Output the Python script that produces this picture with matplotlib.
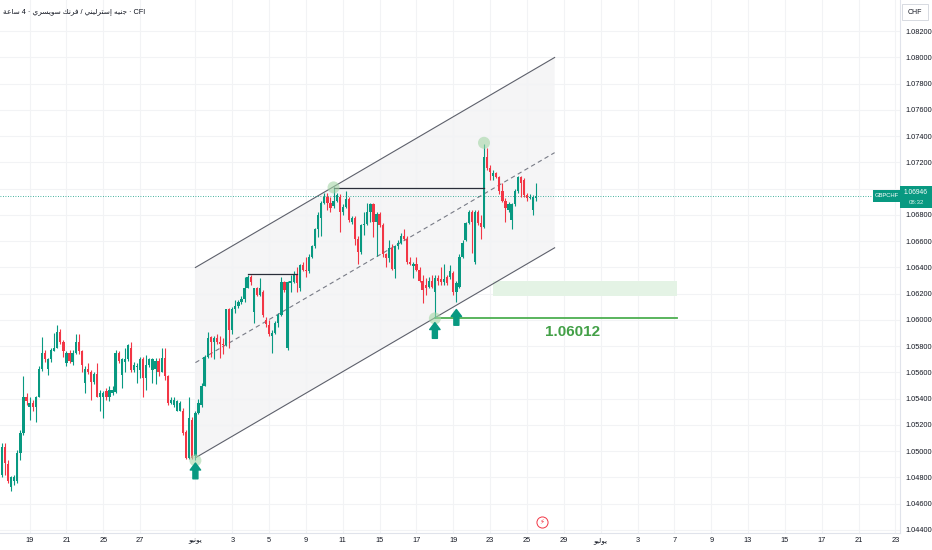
import numpy as np
import pandas as pd
import matplotlib
matplotlib.use('Agg')
import matplotlib.pyplot as plt
import matplotlib.transforms as mtrans
from matplotlib.patches import Rectangle, Polygon

plt.rcParams['font.family'] = ['Liberation Sans', 'DejaVu Sans']

# GBPCHF 4h candles, first bar 2026-05-15 12:00
opens = [1.0482, 1.0503, 1.0490, 1.0473, 1.0477, 1.0477, 1.0499, 1.0514, 1.0541, 1.0534,
         1.0537, 1.0534, 1.0541, 1.0563, 1.0575, 1.0563, 1.0570, 1.0576, 1.0579, 1.0591,
         1.0583, 1.0567, 1.0575, 1.0568, 1.0575, 1.0583, 1.0576, 1.0552, 1.0563, 1.0560,
         1.0553, 1.0559, 1.0541, 1.0541, 1.0546, 1.0541, 1.0544, 1.0545, 1.0575, 1.0558,
         1.0568, 1.0570, 1.0579, 1.0562, 1.0564, 1.0562, 1.0570, 1.0556, 1.0566, 1.0562,
         1.0563, 1.0569, 1.0560, 1.0571, 1.0557, 1.0537, 1.0535, 1.0531, 1.0531, 1.0531,
         1.0515, 1.0495, 1.0524, 1.0496, 1.0529, 1.0535, 1.0550, 1.0572, 1.0587, 1.0583,
         1.0586, 1.0583, 1.0582, 1.0581, 1.0608, 1.0592, 1.0608, 1.0611, 1.0614, 1.0616,
         1.0624, 1.0633, 1.0606, 1.0624, 1.0619, 1.0621, 1.0600, 1.0596, 1.0588, 1.0590,
         1.0598, 1.0604, 1.0629, 1.0579, 1.0628, 1.0629, 1.0634, 1.0624, 1.0642, 1.0638,
         1.0637, 1.0648, 1.0656, 1.0669, 1.0678, 1.0689, 1.0694, 1.0689, 1.0687, 1.0691,
         1.0694, 1.0682, 1.0686, 1.0692, 1.0675, 1.0678, 1.0662, 1.0652, 1.0672, 1.0673,
         1.0682, 1.0688, 1.0675, 1.0681, 1.0672, 1.0650, 1.0647, 1.0655, 1.0639, 1.0656,
         1.0659, 1.0664, 1.0662, 1.0644, 1.0641, 1.0643, 1.0638, 1.0630, 1.0627, 1.0625,
         1.0630, 1.0621, 1.0632, 1.0631, 1.0629, 1.0633, 1.0633, 1.0636, 1.0621, 1.0625,
         1.0648, 1.0661, 1.0674, 1.0682, 1.0644, 1.0682, 1.0674, 1.0671, 1.0724, 1.0716,
         1.0710, 1.0712, 1.0709, 1.0698, 1.0691, 1.0684, 1.0676, 1.0688, 1.0698, 1.0709,
         1.0707, 1.0695, 1.0693, 1.0684, 1.0693]
highs = [1.0506, 1.0506, 1.0493, 1.0481, 1.0482, 1.0501, 1.0516, 1.0557, 1.0544, 1.0541,
         1.0539, 1.0542, 1.0565, 1.0587, 1.0577, 1.0571, 1.0579, 1.0590, 1.0596, 1.0593,
         1.0585, 1.0576, 1.0577, 1.0577, 1.0589, 1.0589, 1.0577, 1.0565, 1.0567, 1.0562,
         1.0560, 1.0567, 1.0547, 1.0546, 1.0548, 1.0550, 1.0550, 1.0577, 1.0576, 1.0571,
         1.0579, 1.0582, 1.0583, 1.0568, 1.0567, 1.0572, 1.0572, 1.0573, 1.0571, 1.0571,
         1.0571, 1.0571, 1.0579, 1.0579, 1.0558, 1.0541, 1.0541, 1.0539, 1.0538, 1.0533,
         1.0516, 1.0541, 1.0526, 1.0531, 1.0540, 1.0552, 1.0573, 1.0591, 1.0588, 1.0588,
         1.0589, 1.0588, 1.0586, 1.0608, 1.0609, 1.0610, 1.0615, 1.0615, 1.0618, 1.0633,
         1.0634, 1.0634, 1.0624, 1.0625, 1.0632, 1.0623, 1.0602, 1.0600, 1.0592, 1.0599,
         1.0605, 1.0633, 1.0630, 1.0630, 1.0634, 1.0637, 1.0640, 1.0643, 1.0644, 1.0648,
         1.0650, 1.0657, 1.0670, 1.0682, 1.0691, 1.0697, 1.0697, 1.0694, 1.0701, 1.0697,
         1.0696, 1.0688, 1.0698, 1.0694, 1.0679, 1.0679, 1.0664, 1.0673, 1.0682, 1.0689,
         1.0689, 1.0689, 1.0682, 1.0682, 1.0674, 1.0651, 1.0661, 1.0658, 1.0657, 1.0661,
         1.0666, 1.0669, 1.0664, 1.0648, 1.0644, 1.0648, 1.0640, 1.0634, 1.0632, 1.0633,
         1.0634, 1.0634, 1.0634, 1.0640, 1.0643, 1.0634, 1.0642, 1.0637, 1.0630, 1.0650,
         1.0661, 1.0675, 1.0684, 1.0684, 1.0684, 1.0684, 1.0680, 1.0734, 1.0731, 1.0718,
         1.0714, 1.0713, 1.0710, 1.0704, 1.0693, 1.0690, 1.0689, 1.0700, 1.0710, 1.0710,
         1.0708, 1.0697, 1.0696, 1.0695, 1.0704]
lows = [1.0480, 1.0482, 1.0476, 1.0470, 1.0474, 1.0476, 1.0493, 1.0512, 1.0535, 1.0524,
        1.0531, 1.0522, 1.0541, 1.0561, 1.0568, 1.0558, 1.0568, 1.0576, 1.0579, 1.0582,
        1.0572, 1.0565, 1.0567, 1.0566, 1.0574, 1.0574, 1.0560, 1.0544, 1.0559, 1.0539,
        1.0551, 1.0541, 1.0531, 1.0525, 1.0539, 1.0538, 1.0543, 1.0544, 1.0567, 1.0548,
        1.0560, 1.0569, 1.0560, 1.0560, 1.0552, 1.0556, 1.0541, 1.0547, 1.0564, 1.0552,
        1.0551, 1.0557, 1.0560, 1.0554, 1.0535, 1.0536, 1.0534, 1.0531, 1.0531, 1.0512,
        1.0494, 1.0494, 1.0494, 1.0493, 1.0528, 1.0534, 1.0550, 1.0571, 1.0572, 1.0570,
        1.0582, 1.0571, 1.0574, 1.0580, 1.0579, 1.0589, 1.0605, 1.0609, 1.0612, 1.0614,
        1.0624, 1.0627, 1.0598, 1.0618, 1.0618, 1.0602, 1.0595, 1.0588, 1.0575, 1.0589,
        1.0595, 1.0603, 1.0621, 1.0577, 1.0621, 1.0628, 1.0621, 1.0622, 1.0637, 1.0633,
        1.0636, 1.0647, 1.0655, 1.0663, 1.0664, 1.0688, 1.0684, 1.0682, 1.0685, 1.0690,
        1.0667, 1.0680, 1.0685, 1.0675, 1.0673, 1.0657, 1.0643, 1.0650, 1.0665, 1.0672,
        1.0675, 1.0663, 1.0649, 1.0671, 1.0648, 1.0640, 1.0644, 1.0638, 1.0632, 1.0654,
        1.0658, 1.0661, 1.0643, 1.0642, 1.0632, 1.0637, 1.0629, 1.0613, 1.0619, 1.0624,
        1.0624, 1.06012, 1.0627, 1.0627, 1.0627, 1.0627, 1.0631, 1.0619, 1.0614, 1.0624,
        1.0647, 1.0660, 1.0673, 1.0651, 1.0643, 1.0672, 1.0662, 1.0670, 1.0714, 1.0707,
        1.0707, 1.0708, 1.0696, 1.0690, 1.0675, 1.0682, 1.0669, 1.0687, 1.0697, 1.0694,
        1.0694, 1.0691, 1.0692, 1.0680, 1.0691]
closes = [1.0503, 1.0491, 1.0477, 1.0480, 1.0480, 1.0499, 1.0514, 1.0541, 1.0538, 1.0537,
          1.0534, 1.0541, 1.0563, 1.0575, 1.0570, 1.0570, 1.0577, 1.0579, 1.0591, 1.0583,
          1.0576, 1.0575, 1.0569, 1.0575, 1.0583, 1.0576, 1.0566, 1.0563, 1.0560, 1.0553,
          1.0559, 1.0541, 1.0544, 1.0544, 1.0541, 1.0547, 1.0547, 1.0575, 1.0569, 1.0570,
          1.0570, 1.0581, 1.0562, 1.0566, 1.0565, 1.0570, 1.0556, 1.0566, 1.0570, 1.0570,
          1.0569, 1.0560, 1.0571, 1.0557, 1.0537, 1.0539, 1.0539, 1.0538, 1.0537, 1.0514,
          1.0495, 1.0525, 1.0495, 1.0529, 1.0537, 1.0550, 1.0572, 1.0586, 1.0583, 1.0586,
          1.0583, 1.0582, 1.0581, 1.0608, 1.0592, 1.0608, 1.0611, 1.0614, 1.0616, 1.0624,
          1.0633, 1.0629, 1.0624, 1.0619, 1.0624, 1.0604, 1.0597, 1.0589, 1.0590, 1.0598,
          1.0604, 1.0629, 1.0623, 1.0629, 1.0630, 1.0634, 1.0628, 1.0642, 1.0638, 1.0637,
          1.0648, 1.0656, 1.0669, 1.0680, 1.0689, 1.0694, 1.0689, 1.0685, 1.0691, 1.0695,
          1.0682, 1.0686, 1.0692, 1.0676, 1.0678, 1.0662, 1.0652, 1.0672, 1.0673, 1.0682,
          1.0688, 1.0675, 1.0681, 1.0672, 1.0650, 1.0647, 1.0655, 1.0639, 1.0656, 1.0659,
          1.0664, 1.0662, 1.0644, 1.0643, 1.0643, 1.0638, 1.0630, 1.0623, 1.0624, 1.0630,
          1.0625, 1.0632, 1.0630, 1.0629, 1.0631, 1.0628, 1.0637, 1.0621, 1.0628, 1.0648,
          1.0659, 1.0674, 1.0682, 1.0675, 1.0682, 1.0674, 1.0671, 1.0724, 1.0716, 1.0713,
          1.0712, 1.0709, 1.0698, 1.0691, 1.0685, 1.0688, 1.0688, 1.0698, 1.0709, 1.0704,
          1.0695, 1.0693, 1.0694, 1.0694, 1.06946]

last_price = 1.06946
support = 1.06012

# time axis labels
JUNE = '\uFEEE\uFEF4\uFEE7\uFEEE\uFEF3'    # يونيو
JULY = '\uFEEE\uFEF4\uFEDF\uFEEE\uFEF3'    # يوليو
tick_dates = ['2026-05-19', '2026-05-21', '2026-05-25', '2026-05-27', '2026-06-01',
              '2026-06-03', '2026-06-05', '2026-06-09', '2026-06-11', '2026-06-15',
              '2026-06-17', '2026-06-19', '2026-06-23', '2026-06-25', '2026-06-29',
              '2026-07-01', '2026-07-03', '2026-07-07', '2026-07-09', '2026-07-13',
              '2026-07-15', '2026-07-17', '2026-07-21', '2026-07-23']
tick_labels = ['19', '21', '25', '27', JUNE, '3', '5', '9', '11', '15', '17', '19',
               '23', '25', '29', JULY, '3', '7', '9', '13', '15', '17', '21', '23']

# drawings
channel_t = ['2026-06-01 00:00', '2026-06-26 12:00']
channel_up = [1.0640, 1.0800]
channel_lo = [1.0495, 1.0655]
hline1_t, hline1_p = ['2026-06-10 12:00', '2026-06-22 16:00'], 1.07006
hline2_t, hline2_p = ['2026-06-03 20:00', '2026-06-08 12:00'], 1.0635
support_t = ['2026-06-18 00:00', '2026-07-07 04:00']
zone_t, zone_p = ['2026-06-23 04:00', '2026-07-07 04:00'], [1.0618, 1.0630]
pivot_t = ['2026-06-01 00:00', '2026-06-18 00:00', '2026-06-10 12:00', '2026-06-22 16:00']
pivot_p = [1.0493, 1.06012, 1.0701, 1.0735]
arrow_t = ['2026-06-01 00:00', '2026-06-18 00:00', '2026-06-19 04:00']
arrow_tip = [1.0491, 1.0598, 1.0608]
arrow_base = [1.0479, 1.0586, 1.0596]

# trading calendar: weekdays, six 4h bars per day
days = pd.bdate_range('2026-05-15', '2026-07-31')
slots = pd.DatetimeIndex([d + pd.Timedelta(hours=h) for d in days for h in range(0, 24, 4)])
slots = slots[slots >= pd.Timestamp('2026-05-15 12:00')]


def pos(t):
    return slots.get_loc(pd.Timestamp(t))


GREEN = '#089981'
RED = '#f23645'
TXT = '#131722'

fig = plt.figure(figsize=(9.32, 5.5), dpi=100)
ax = fig.add_axes([0, 17 / 550, 900 / 932, 533 / 550])

o = np.array(opens); h = np.array(highs); l = np.array(lows); c = np.array(closes)
x = np.arange(len(o))
col = np.where(c >= o, GREEN, RED)

# channel
cx = [pos(t) for t in channel_t]
ax.add_patch(Polygon([(cx[0], channel_up[0]), (cx[1], channel_up[1]),
                      (cx[1], channel_lo[1]), (cx[0], channel_lo[0])],
                     closed=True, facecolor='#f5f5f6', edgecolor='none', zorder=0.5))
ax.plot(cx, channel_up, color='#5d606b', lw=0.8, zorder=1)
ax.plot(cx, channel_lo, color='#5d606b', lw=0.8, zorder=1)
ax.plot(cx, [(a + b) / 2 for a, b in zip(channel_up, channel_lo)], color='#787b86',
        lw=0.8, ls=(0, (4, 3)), zorder=1)

# zone and support
zx = [pos(t) for t in zone_t]
ax.add_patch(Rectangle((zx[0], zone_p[0]), zx[1] - zx[0], zone_p[1] - zone_p[0],
                       facecolor='#e4f3e5', edgecolor='none', zorder=0.6))
sx = [pos(t) for t in support_t]
ax.plot(sx, [support, support], color='#4caf50', lw=1.3, zorder=2)
ax.text(pos('2026-06-29 12:00'), 1.0591, f'{support:.5f}', color='#43a047',
        fontsize=11, fontweight='bold', ha='center', va='center', zorder=3)

# current price line
ax.axhline(last_price, color=GREEN, lw=0.6, ls=(0, (1, 2)), zorder=1)

# candles
ax.vlines(x, l, h, color=col, lw=0.8, zorder=2)
ax.bar(x, np.maximum(np.abs(c - o), 0.00006), bottom=np.minimum(o, c), width=0.74,
       color=col, linewidth=0, zorder=3)

# horizontal resistance lines
ax.plot([pos(t) for t in hline1_t], [hline1_p] * 2, color='#2a2e39', lw=0.9, zorder=4)
ax.plot([pos(t) for t in hline2_t], [hline2_p] * 2, color='#2a2e39', lw=0.9, zorder=4)

# pivots and arrows
ax.scatter([pos(t) for t in pivot_t], pivot_p, s=75, color='#a5d6a7', alpha=0.6,
           edgecolor='none', zorder=5)
for t, tip, base in zip(arrow_t, arrow_tip, arrow_base):
    ax.annotate('', xy=(pos(t), tip), xytext=(pos(t), base),
                arrowprops=dict(arrowstyle='simple,head_length=0.5,head_width=0.75,tail_width=0.36',
                                color=GREEN, shrinkA=0, shrinkB=0), zorder=6)

# lightning marker near the time axis
ax.plot(pos('2026-06-25 20:00'), 1.04461, 'o', ms=8, mfc='white', mec=RED, mew=0.7, zorder=6)
ax.text(pos('2026-06-25 20:00'), 1.04461, '\u26A1', fontsize=5, color=RED, ha='center',
        va='center', family='DejaVu Sans', zorder=7)

# axes
ax.set_xlim(-0.65, 292.5)
ax.set_ylim(1.04377, 1.08438)
yt = np.round(np.arange(1.044, 1.0821, 0.002), 3)
ax.set_yticks(yt)
ax.set_yticklabels([f'{v:.5f}' for v in yt])
ax.set_xticks([pos(d) for d in tick_dates])
ax.set_xticklabels(tick_labels)
ax.yaxis.tick_right()
ax.tick_params(axis='y', length=0, pad=4, labelsize=5.3, labelcolor=TXT)
ax.tick_params(axis='x', length=0, pad=3, labelsize=5.3, labelcolor=TXT)
ax.grid(True, color='#f2f3f5', lw=0.8, zorder=0)
ax.set_axisbelow(True)
for s in ['top', 'left']:
    ax.spines[s].set_visible(False)
for s in ['right', 'bottom']:
    ax.spines[s].set_color('#e0e3eb')
    ax.spines[s].set_linewidth(0.8)

# price labels on the scale
bt = mtrans.blended_transform_factory(ax.transAxes, ax.transData)
ax.add_patch(Rectangle((1.0, 1.06853), 32 / 900, 1.07021 - 1.06853, transform=bt,
                       facecolor=GREEN, edgecolor='none', clip_on=False, zorder=10))
ax.text(1 + 16 / 900, 1.06968, f'{last_price:.5f}', transform=bt, color='white',
        fontsize=4.8, ha='center', va='center', clip_on=False, zorder=11)
ax.text(1 + 16 / 900, 1.06897, '08:32', transform=bt, color='#d8f0ea',
        fontsize=4.4, ha='center', va='center', clip_on=False, zorder=11)
ax.add_patch(Rectangle((873 / 900, 1.06899), 27 / 900, 1.06991 - 1.06899, transform=bt,
                       facecolor=GREEN, edgecolor='none', clip_on=False, zorder=10))
ax.text(886.5 / 900, 1.06945, 'GBPCHF', transform=bt, color='white',
        fontsize=4.2, ha='center', va='center', clip_on=False, zorder=11)

# currency box and title
fig.patches.append(Rectangle((902 / 932, 1 - 20 / 550), 26 / 932, 16 / 550,
                             transform=fig.transFigure, facecolor='white',
                             edgecolor='#d1d4dc', lw=0.6))
fig.text(915 / 932, 1 - 12 / 550, 'CHF', fontsize=5, color=TXT, ha='center', va='center')
title = ('\uFE94\uFECB\uFE8E\uFEB3 4 \u00B7 \uFEF1\uFEAE\uFEB4\uFEF3\uFEEE\uFEB3 '
         '\uFEDA\uFEE7\uFEAE\uFED3 / \uFEF2\uFEE8\uFEF4\uFEDF\uFEAE\uFE98\uFEB3\uFE87 '
         '\uFEEA\uFEF4\uFEE8\uFE9F \u00B7 CFI')
fig.text(3 / 932, 1 - 12 / 550, title, fontsize=5.3, color=TXT, ha='left', va='center')

fig.savefig('out.png', dpi=100)
